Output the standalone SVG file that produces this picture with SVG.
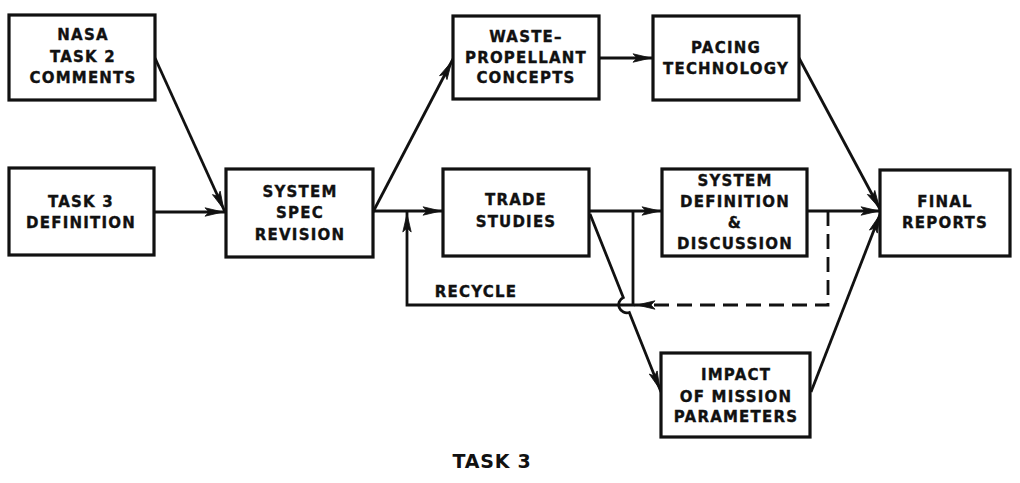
<svg xmlns="http://www.w3.org/2000/svg" width="1020" height="483" viewBox="0 0 1020 483">
  <style>
    .box { fill: #fff; stroke: #111; stroke-width: 3.2; }
    .lbl { font-family: "DejaVu Sans", "Liberation Sans", sans-serif; font-weight: bold; font-size: 15px; letter-spacing: 1.2px; fill: #111; stroke: #111; stroke-width: 0.35; text-anchor: middle; }
    .wire { fill: none; stroke: #111; stroke-width: 2.8; }
    .dash { stroke-dasharray: 15 8; }
    .title { font-family: "DejaVu Sans", "Liberation Sans", sans-serif; font-weight: bold; font-size: 19px; letter-spacing: 0.8px; fill: #111; text-anchor: middle; }
  </style>
  <defs>
    <!-- slim dart-shaped arrowhead, tip set a few pixels short of the line end -->
    <marker id="head" markerUnits="userSpaceOnUse" viewBox="0 0 18 10" refX="21" refY="5" markerWidth="18" markerHeight="10" orient="auto" overflow="visible">
      <path d="M0,0.8 L18,5 L0,9.2 L4,5 z" fill="#111" stroke="#111" stroke-width="0.8" stroke-linejoin="round"/>
    </marker>
  </defs>

  <rect width="1020" height="483" fill="#fff"/>

  <!-- connectors -->
  <g id="connectors">
    <path class="wire" d="M155,58 L225,212" marker-end="url(#head)"/>
    <path class="wire" d="M154,212 L226,212" marker-end="url(#head)"/>
    <path class="wire" d="M373,212 L453,59" marker-end="url(#head)"/>
    <path class="wire" d="M373,211 L444,211" marker-end="url(#head)"/>
    <path class="wire" d="M599,58 L654,58" marker-end="url(#head)"/>
    <path class="wire" d="M799,58 L881,211" marker-end="url(#head)"/>
    <path class="wire" d="M589,211 L663,211" marker-end="url(#head)"/>
    <path class="wire" d="M807,211 L882,211" marker-end="url(#head)"/>
    <path class="wire" d="M811,392 L881,212" marker-end="url(#head)"/>
    <!-- trade studies to mission impact, hopping over the recycle line -->
    <path class="wire" d="M590,214 L623.3,297.5 A8.1,8.1 0 0 0 629.3,312.5 L661,392" marker-end="url(#head)"/>
    <!-- recycle loop -->
    <path class="wire" d="M633,211 L633,305 L407,305 L407,211" marker-end="url(#head)"/>
    <path class="wire dash" d="M828,211 L828,305 L634,305" marker-end="url(#head)"/>
    <text class="lbl" x="476" y="297">RECYCLE</text>
  </g>

  <g id="nasa-comments">
    <rect class="box" x="9" y="15" width="146" height="85"/>
    <text class="lbl" x="83" y="40">NASA</text>
    <text class="lbl" x="83" y="62">TASK 2</text>
    <text class="lbl" x="83" y="83">COMMENTS</text>
  </g>

  <g id="task3-definition">
    <rect class="box" x="9" y="168" width="145" height="87"/>
    <text class="lbl" x="81" y="207">TASK 3</text>
    <text class="lbl" x="81" y="228">DEFINITION</text>
  </g>

  <g id="system-spec-revision">
    <rect class="box" x="226" y="169" width="147" height="88"/>
    <text class="lbl" x="300" y="197">SYSTEM</text>
    <text class="lbl" x="300" y="218">SPEC</text>
    <text class="lbl" x="300" y="240">REVISION</text>
  </g>

  <g id="waste-propellant">
    <rect class="box" x="453" y="16" width="146" height="83"/>
    <text class="lbl" x="526" y="42">WASTE–</text>
    <text class="lbl" x="526" y="63">PROPELLANT</text>
    <text class="lbl" x="526" y="83">CONCEPTS</text>
  </g>

  <g id="pacing-technology">
    <rect class="box" x="653" y="16" width="146" height="84"/>
    <text class="lbl" x="726" y="53">PACING</text>
    <text class="lbl" x="726" y="74">TECHNOLOGY</text>
  </g>

  <g id="trade-studies">
    <rect class="box" x="443" y="169" width="146" height="87"/>
    <text class="lbl" x="516" y="205">TRADE</text>
    <text class="lbl" x="516" y="227">STUDIES</text>
  </g>

  <g id="system-definition">
    <rect class="box" x="662" y="169" width="145" height="87"/>
    <text class="lbl" x="735" y="186">SYSTEM</text>
    <text class="lbl" x="735" y="207">DEFINITION</text>
    <text class="lbl" x="735" y="228">&amp;</text>
    <text class="lbl" x="735" y="249">DISCUSSION</text>
  </g>

  <g id="final-reports">
    <rect class="box" x="880" y="170" width="130" height="86"/>
    <text class="lbl" x="945" y="207">FINAL</text>
    <text class="lbl" x="945" y="228">REPORTS</text>
  </g>

  <g id="mission-impact">
    <rect class="box" x="661" y="353" width="149" height="84"/>
    <text class="lbl" x="736" y="380">IMPACT</text>
    <text class="lbl" x="736" y="402">OF MISSION</text>
    <text class="lbl" x="736" y="422">PARAMETERS</text>
  </g>

  <text class="title" x="492" y="468">TASK 3</text>
</svg>
